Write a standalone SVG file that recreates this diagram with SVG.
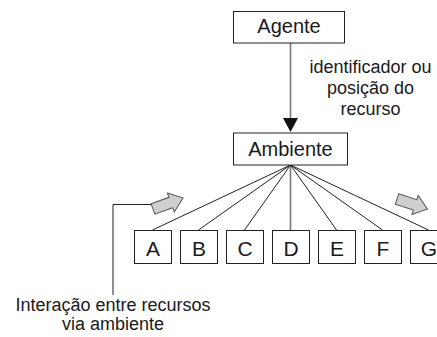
<svg xmlns="http://www.w3.org/2000/svg" width="437" height="337" viewBox="0 0 437 337">
<style>
.box{fill:#fff;stroke:#222;stroke-width:1}
.t{font-family:"Liberation Sans",Arial,sans-serif;fill:#1a1a1a;text-anchor:middle}
.big{font-size:20px}
.let{font-size:21px}
.lbl{font-size:18px}
.fan{stroke:#222;stroke-width:1;fill:none}
.gray{stroke:#777;stroke-width:1.6;fill:none}
.garrow{fill:#cfcfcf;stroke:#555;stroke-width:1}
</style>
<defs>
<path id="blk" d="M0,-5.5 L19,-5.5 L19,-10 L32,0 L19,10 L19,5.5 L0,5.5 Z"/>
</defs>
<g id="connectors">
<line class="gray" x1="290.5" y1="43" x2="290.5" y2="119"/>
<polygon points="283,118 298,118 290.5,132" fill="#111"/>
<line class="fan" x1="290.5" y1="165" x2="152.5" y2="230"/>
<line class="fan" x1="290.5" y1="165" x2="198.5" y2="230"/>
<line class="fan" x1="290.5" y1="165" x2="244.5" y2="230"/>
<line class="gray" x1="290.5" y1="165" x2="290.5" y2="230"/>
<line class="fan" x1="290.5" y1="165" x2="336.5" y2="230"/>
<line class="fan" x1="290.5" y1="165" x2="382.5" y2="230"/>
<line class="fan" x1="290.5" y1="165" x2="428.5" y2="230"/>
<polyline class="fan" points="113,295 113,204.5 152,204.5"/>
<use href="#blk" class="garrow" transform="translate(153,209) rotate(-20)"/>
<use href="#blk" class="garrow" transform="translate(397,199) rotate(18)"/>
</g>
<g id="agente">
<rect class="box" x="233.5" y="11.5" width="111" height="31.5"/>
<text class="t big" x="289" y="33">Agente</text>
</g>
<g id="label">
<text class="t lbl" x="370.5" y="73">identificador ou</text>
<text class="t lbl" x="370.5" y="94">posição do</text>
<text class="t lbl" x="370.5" y="115">recurso</text>
</g>
<g id="ambiente">
<rect class="box" x="233.5" y="133" width="114" height="32"/>
<text class="t big" x="290.5" y="156">Ambiente</text>
</g>
<g id="nA"><rect class="box" x="134.5" y="230.5" width="37" height="33"/><text class="t let" x="153" y="255.5">A</text></g>
<g id="nB"><rect class="box" x="180.5" y="230.5" width="37" height="33"/><text class="t let" x="199" y="255.5">B</text></g>
<g id="nC"><rect class="box" x="226.5" y="230.5" width="37" height="33"/><text class="t let" x="245" y="255.5">C</text></g>
<g id="nD"><rect class="box" x="272.5" y="230.5" width="37" height="33"/><text class="t let" x="291" y="255.5">D</text></g>
<g id="nE"><rect class="box" x="318.5" y="230.5" width="37" height="33"/><text class="t let" x="337" y="255.5">E</text></g>
<g id="nF"><rect class="box" x="364.5" y="230.5" width="37" height="33"/><text class="t let" x="383" y="255.5">F</text></g>
<g id="nG"><rect class="box" x="410.5" y="230.5" width="37" height="33"/><text class="t let" x="429" y="255.5">G</text></g>
<g id="note">
<text class="t lbl" x="113" y="311">Interação entre recursos</text>
<text class="t lbl" x="113" y="330">via ambiente</text>
</g>
</svg>
